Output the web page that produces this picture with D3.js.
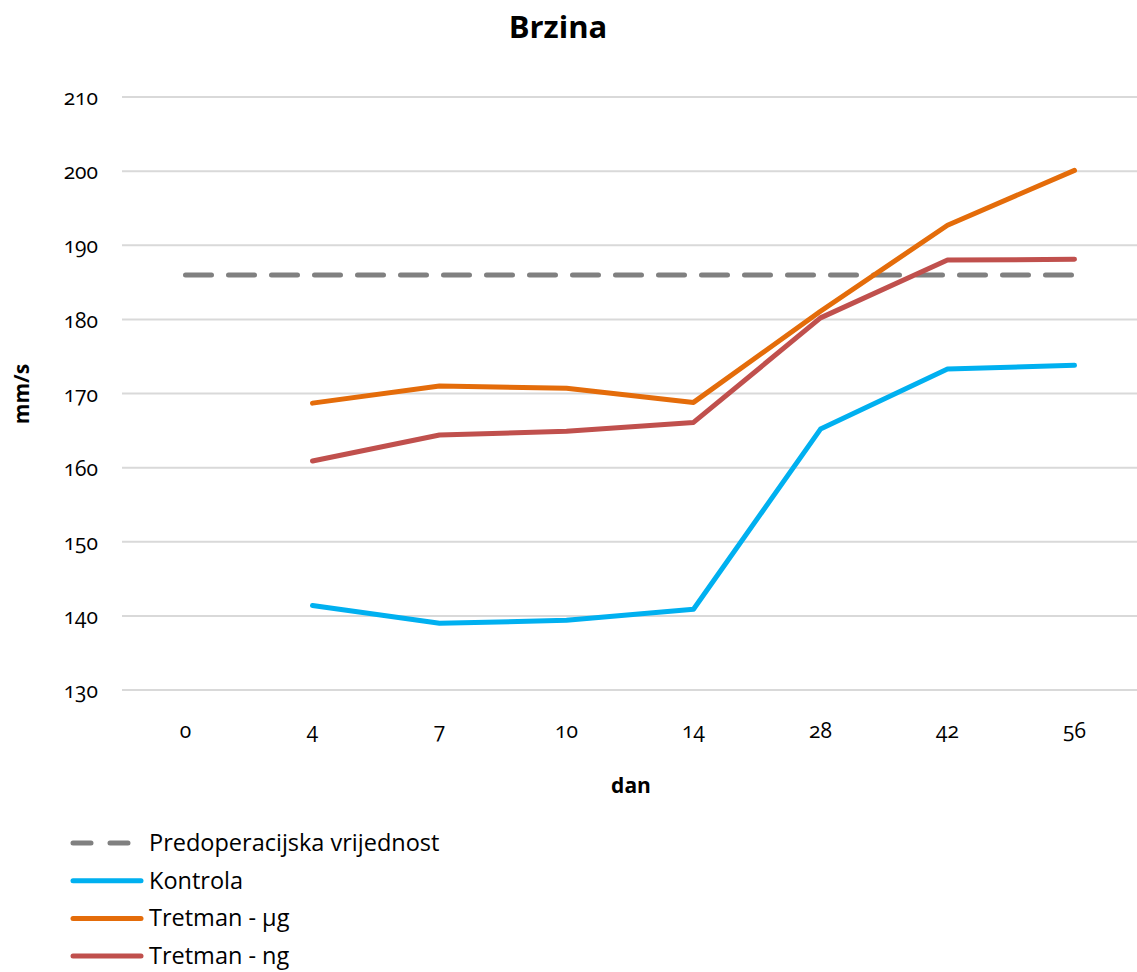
<!DOCTYPE html>
<html>
<head>
<meta charset="utf-8">
<script src="https://cdn.jsdelivr.net/npm/d3@7"></script>
<style>
  body { margin: 0; background: #fff; }
  svg { font-family: "Open Sans", Lato, sans-serif; }
  .num { font-variant-numeric: oldstyle-nums; font-feature-settings: "onum" 1; }
</style>
</head>
<body>
<svg id="chart" width="1137" height="972"></svg>
<script>
const days = ['0', '4', '7', '10', '14', '28', '42', '56'];
const yTicks = [130, 140, 150, 160, 170, 180, 190, 200, 210];

const baseline = [186, 186, 186, 186, 186, 186, 186, 186];
const kontrola = [null, 141.4, 139.0, 139.4, 140.9, 165.2, 173.3, 173.8];
const tretmanUg = [null, 168.7, 171.0, 170.7, 168.8, 181.1, 192.7, 200.1];
const tretmanNg = [null, 160.9, 164.4, 164.9, 166.1, 180.2, 188.0, 188.1];

const seriesNames = ['Predoperacijska vrijednost', 'Kontrola', 'Tretman - µg', 'Tretman - ng'];
const seriesColors = ['#808080', '#00b0f0', '#e46c0a', '#c0504d'];

const series = [baseline, kontrola, tretmanUg, tretmanNg].map((values, i) => ({
  name: seriesNames[i],
  color: seriesColors[i],
  dashed: i === 0,
  values,
}));

const svg = d3.select('#chart');

const x = d3.scaleBand()
  .domain(days)
  .range([122, 1138]);

const y = d3.scaleLinear()
  .domain([130, 210])
  .range([690, 97]);

// gridlines
svg.append('g')
  .selectAll('line')
  .data(yTicks)
  .join('line')
  .attr('x1', 122)
  .attr('x2', 1137)
  .attr('y1', d => y(d))
  .attr('y2', d => y(d))
  .attr('stroke', '#d9d9d9')
  .attr('stroke-width', 2);

function styleAxis(g) {
  g.attr('font-family', null).attr('font-size', null).classed('num', true);
  g.select('.domain').remove();
  g.selectAll('text')
    .attr('font-size', 21)
    .attr('fill', '#000');
}

// y axis labels
svg.append('g')
  .attr('transform', 'translate(98,1)')
  .call(d3.axisLeft(y).tickValues(yTicks).tickSize(0).tickPadding(0))
  .call(styleAxis);

// x axis labels
svg.append('g')
  .attr('transform', 'translate(0,723)')
  .call(d3.axisBottom(x).tickSize(0).tickPadding(0))
  .call(styleAxis);

const line = d3.line()
  .defined(d => d != null)
  .x((d, i) => x(days[i]) + x.bandwidth() / 2)
  .y(d => y(d));

svg.append('g')
  .selectAll('path')
  .data(series)
  .join('path')
  .attr('d', d => line(d.values))
  .attr('fill', 'none')
  .attr('stroke', d => d.color)
  .attr('stroke-width', 5)
  .attr('stroke-linecap', 'round')
  .attr('stroke-linejoin', 'round')
  .attr('stroke-dasharray', d => d.dashed ? '26,17' : null);

// title and axis titles
svg.append('text')
  .attr('x', 558)
  .attr('y', 38)
  .attr('text-anchor', 'middle')
  .attr('font-size', 31)
  .attr('font-weight', 'bold')
  .text('Brzina');

svg.append('text')
  .attr('transform', 'translate(29,394) rotate(-90)')
  .attr('text-anchor', 'middle')
  .attr('font-size', 21)
  .attr('font-weight', 'bold')
  .text('mm/s');

svg.append('text')
  .attr('x', 631)
  .attr('y', 793)
  .attr('text-anchor', 'middle')
  .attr('font-size', 21)
  .attr('font-weight', 'bold')
  .text('dan');

// legend
const legend = svg.append('g')
  .selectAll('g')
  .data(series)
  .join('g')
  .attr('transform', (d, i) => `translate(0,${843 + i * 37.7})`);

legend.append('line')
  .attr('x1', 73)
  .attr('x2', 141)
  .attr('stroke', d => d.color)
  .attr('stroke-width', 5)
  .attr('stroke-linecap', 'round')
  .attr('stroke-dasharray', d => d.dashed ? '18,19' : null);

legend.append('text')
  .attr('x', 149)
  .attr('y', 8)
  .attr('font-size', 23.5)
  .text(d => d.name);
</script>
</body>
</html>
